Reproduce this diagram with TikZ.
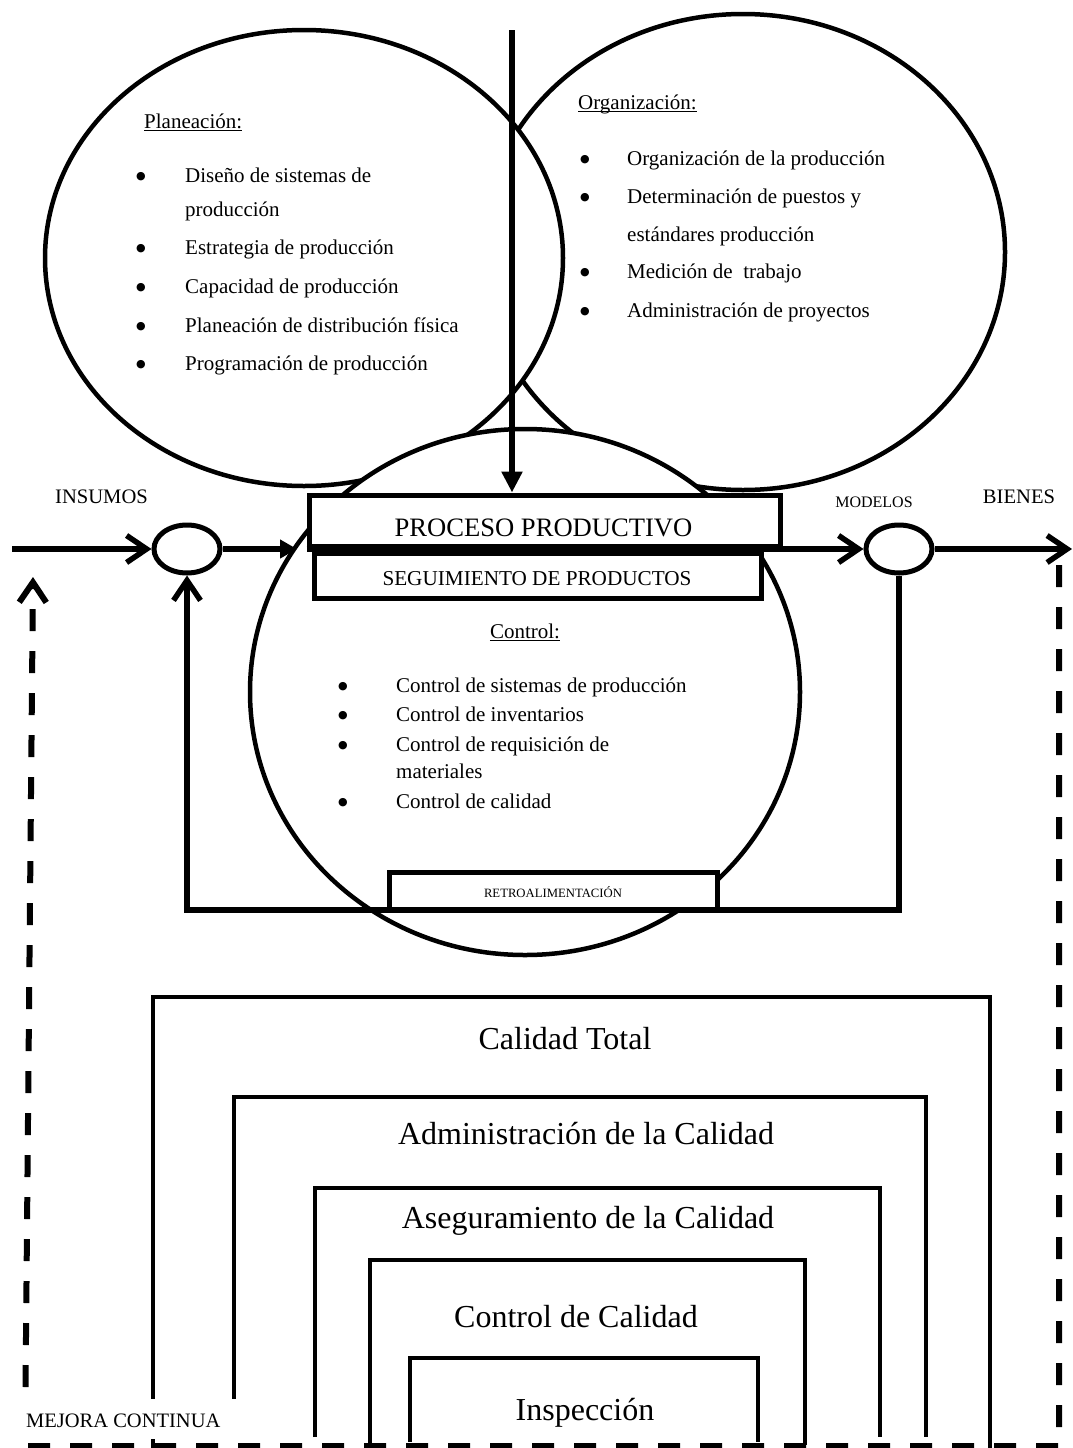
\documentclass[tikz,border=0pt]{standalone}
\usepackage{fontspec}
\setmainfont{Liberation Serif}
\newfontfamily\symfont{DejaVu Sans}
\usetikzlibrary{shapes.geometric,arrows.meta}
\begin{document}
\begin{tikzpicture}[x=1pt,y=-1pt,
  bigell/.style={draw,ellipse,fill=white,line width=4.5pt,inner sep=0pt},
  smallell/.style={draw,ellipse,fill=white,line width=5pt,inner sep=0pt,minimum width=66pt,minimum height=48pt},
  txt/.style={font=\fontsize{21}{25}\selectfont,anchor=base west,inner sep=0pt},
  bul/.style={font=\symfont\fontsize{11}{14}\selectfont,anchor=base,inner sep=0pt,yshift=3pt},
  qual/.style={font=\fontsize{32}{38}\selectfont,anchor=base,inner sep=0pt},
  lbl/.style={anchor=base,inner sep=0pt},
  boxline/.style={draw,fill=white,line width=5pt,inner sep=0pt},
  flow/.style={line width=5.5pt},
  openhead/.style={-{Straight Barb[length=20pt,width=27pt]}},
  fillhead/.style={-{Triangle[length=17pt,width=18pt]}},
  dashline/.style={line width=6pt,dash pattern=on 22pt off 20pt},
  qline/.style={line width=4pt},
  uline/.style={line width=1.3pt}
]
\useasboundingbox (0,0) rectangle (1073,1448);
\fill[white] (0,0) rectangle (1073,1448);

% ---------- Organizacion ----------
\node[bigell,minimum width=524pt,minimum height=476pt] (org) at (743,252) {};
\node[txt] (orgT) at (578,109) {Organización:};
\draw[uline] ([yshift=-2.5pt]orgT.base west) -- ([yshift=-2.5pt]orgT.base east);
\node[bul] (ob1) at (585,165) {●};
\node[txt] (o1) at (627,165) {Organización de la producción};
\node[bul] (ob2) at (585,203) {●};
\node[txt] (o2) at (627,203) {Determinación de puestos y};
\node[txt] (o3) at (627,241) {estándares producción};
\node[bul] (ob4) at (585,278) {●};
\node[txt] (o4) at (627,278) {Medición de~ trabajo};
\node[bul] (ob5) at (585,317) {●};
\node[txt] (o5) at (627,317) {Administración de proyectos};

% ---------- Planeacion ----------
\node[bigell,minimum width=518pt,minimum height=456pt] (plan) at (304,258) {};
\node[txt] (planT) at (144,128) {Planeación:};
\draw[uline] ([yshift=-2.5pt]planT.base west) -- ([yshift=-2.5pt]planT.base east);
\node[bul] (pb1) at (141,182) {●};
\node[txt] (p1) at (185,182) {Diseño de sistemas de};
\node[txt] (p2) at (185,216) {producción};
\node[bul] (pb3) at (141,254) {●};
\node[txt] (p3) at (185,254) {Estrategia de producción};
\node[bul] (pb4) at (141,293) {●};
\node[txt] (p4) at (185,293) {Capacidad de producción};
\node[bul] (pb5) at (141,332) {●};
\node[txt] (p5) at (185,332) {Planeación de distribución física};
\node[bul] (pb6) at (141,370) {●};
\node[txt] (p6) at (185,370) {Programación de producción};

% ---------- Control ----------
\node[bigell,minimum width=550pt,minimum height=526pt] (ctrl) at (525,692) {};
\node[font=\fontsize{21}{25}\selectfont,anchor=base,inner sep=0pt] (ctrlT) at (525,638) {Control:};
\draw[uline] ([yshift=-2.5pt]ctrlT.base west) -- ([yshift=-2.5pt]ctrlT.base east);
\node[bul] (cb1) at (343,692) {●};
\node[txt] (c1) at (396,692) {Control de sistemas de producción};
\node[bul] (cb2) at (343,721) {●};
\node[txt] (c2) at (396,721) {Control de inventarios};
\node[bul] (cb3) at (343,751) {●};
\node[txt] (c3) at (396,751) {Control de requisición de};
\node[txt] (c4) at (396,778) {materiales};
\node[bul] (cb5) at (343,808) {●};
\node[txt] (c5) at (396,808) {Control de calidad};

% ---------- Proceso productivo ----------
\node[boxline,minimum width=471pt,minimum height=51.5pt] (proc) at (544.5,520.75) {};
\node[lbl,font=\fontsize{26.6}{30}\selectfont] (procT) at (543.5,536) {PROCESO PRODUCTIVO};
\node[boxline,minimum width=447pt,minimum height=45pt] (seg) at (537.5,575.5) {};
\node[lbl,font=\fontsize{21.2}{25}\selectfont] (segT) at (537,585) {SEGUIMIENTO DE PRODUCTOS};

\coordinate (topin) at (512,30);
\draw[line width=5.5pt,-{Triangle[length=21pt,width=20pt]}] (topin) -- (topin |- proc.north);

% ---------- flow ----------
\node[smallell] (lc) at (187,549) {};
\node[smallell] (rc) at (899,549) {};
\coordinate (inL) at (12,549);
\coordinate (pin) at (297,549);
\coordinate (outR) at (1072,549);
\coordinate (fbL) at (187,910);
\draw[flow,openhead] (inL) -- (lc.west);
\draw[flow,fillhead] (lc.east) -- (pin);
\draw[flow,openhead] (proc.south west) -- (rc.west);
\draw[flow,openhead] (rc.east) -- (outR);
\draw[flow,openhead] (rc.south) |- (fbL) -- (lc.south);

\node[boxline,minimum width=328pt,minimum height=37pt] (retro) at (553,890.5) {};
\node[lbl,font=\fontsize{12.7}{15}\selectfont] (retroT) at (553,897) {RETROALIMENTACIÓN};

\node[lbl,font=\fontsize{20.6}{24}\selectfont] (ins) at (101.5,503) {INSUMOS};
\node[lbl,font=\fontsize{16}{19}\selectfont] (mod) at (874,507) {MODELOS};
\node[lbl,font=\fontsize{20.6}{24}\selectfont] (bie) at (1019,503) {BIENES};

% ---------- mejora continua loop ----------
\coordinate (dR) at (1059,565);
\coordinate (dBR) at (1059,1446);
\coordinate (dBL) at (25,1446);
\coordinate (dL) at (33,577);
\draw[dashline,openhead] (dR) -- (dBR) -- (dBL) -- (dL);

% ---------- quality levels ----------
\draw[qline] (153,1448) |- (990,997) -- (990,1448);
\draw[qline] (234,1437) |- (926,1097) -- (926,1437);
\draw[qline] (315,1437) |- (880,1188) -- (880,1437);
\draw[qline] (370,1445) |- (805,1260) -- (805,1445);
\draw[qline] (410,1442) |- (758,1358) -- (758,1442);
\node[qual] (q1) at (565,1049) {Calidad Total};
\node[qual] (q2) at (586,1144) {Administración de la Calidad};
\node[qual] (q3) at (588,1228) {Aseguramiento de la Calidad};
\node[qual] (q4) at (576,1327) {Control de Calidad};
\node[qual] (q5) at (585,1420) {Inspección};

\fill[white] (18,1399) rectangle (242,1439);
\node[font=\fontsize{20.5}{24}\selectfont,anchor=base west,inner sep=0pt] (mej) at (26,1427) {MEJORA CONTINUA};
\end{tikzpicture}
\end{document}
